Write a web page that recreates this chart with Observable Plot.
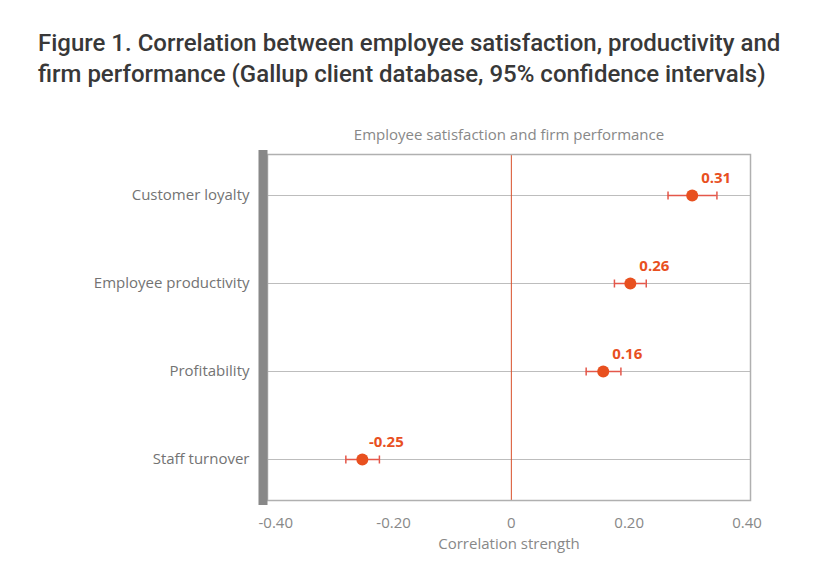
<!DOCTYPE html>
<html>
<head>
<meta charset="utf-8">
<script src="https://cdn.jsdelivr.net/npm/d3@7"></script>
<script src="https://cdn.jsdelivr.net/npm/@observablehq/plot@0.6"></script>
<style>
  html, body { margin: 0; padding: 0; background: #fff; }
  #wrap { position: relative; width: 823px; height: 574px; overflow: hidden; }
  #title { position: absolute; left: 38px; top: 28px; font-family: Roboto, sans-serif; font-weight: 500; font-size: 24px; line-height: 31px; color: #383838; white-space: nowrap; }
  #chart { position: absolute; left: 0; top: 100px; }
</style>
</head>
<body>
<div id="wrap">
  <div id="title">Figure 1. Correlation between employee satisfaction, productivity and<br>firm performance (Gallup client database, 95% confidence intervals)</div>
  <div id="chart"></div>
</div>
<script>
const categories = ["Customer loyalty", "Employee productivity", "Profitability", "Staff turnover"];
const estimates = [0.307, 0.202, 0.156, -0.253];
const lower = [0.266, 0.175, 0.127, -0.281];
const upper = [0.349, 0.229, 0.186, -0.224];
const valueLabels = ["0.31", "0.26", "0.16", "-0.25"];
const xTicks = [-0.4, -0.2, 0, 0.2, 0.4];
const xTickLabels = ["-0.40", "-0.20", "0", "0.20", "0.40"];

const data = categories.map((c, i) => ({cat: c, est: estimates[i], lo: lower[i], hi: upper[i], label: valueLabels[i]}));
const red = "#e8501f";
const barRed = "#e4574a";
const font = "'Open Sans', 'Noto Sans', sans-serif";

// vertical cap symbol for error bars
const vbar = {
  draw(context, size) {
    const h = Math.sqrt(size / Math.PI);
    context.moveTo(0, -h);
    context.lineTo(0, h);
  }
};

const chart = Plot.plot({
  width: 823,
  height: 474,
  marginLeft: 267,
  marginRight: 73,
  marginTop: 54,
  marginBottom: 74,
  style: {fontFamily: font, fontSize: "15px", color: "#888", background: "#fff"},
  x: {domain: [-0.414, 0.406]},
  y: {type: "point", domain: categories, padding: 0.46},
  marks: [
    Plot.gridY({stroke: "#bdbdbd", strokeOpacity: 1}),
    Plot.ruleX([0], {stroke: "#d9502a", strokeWidth: 1}),
    Plot.frame({stroke: "#b0b0b0", strokeWidth: 1.5}),
    Plot.frame({anchor: "left", stroke: "#888", strokeWidth: 9, dx: -4.5}),
    Plot.axisX({ticks: xTicks, tickFormat: (d) => xTickLabels[xTicks.indexOf(d)], tickSize: 0, tickPadding: 17, fill: "#888", fontSize: 15, label: null}),
    Plot.text(["Correlation strength"], {frameAnchor: "bottom", dy: 48, fill: "#888", fontSize: 15}),
    Plot.text(["Employee satisfaction and firm performance"], {frameAnchor: "top", dy: -25, fill: "#888", fontSize: 15}),
    Plot.axisY({tickSize: 0, tickPadding: 18, fill: "#737373", fontSize: 15, label: null}),
    Plot.ruleY(data, {y: "cat", x1: "lo", x2: "hi", stroke: barRed, strokeWidth: 1.5}),
    Plot.dot(data, {x: "lo", y: "cat", symbol: vbar, r: 4, stroke: barRed, strokeWidth: 1.5, fill: "none"}),
    Plot.dot(data, {x: "hi", y: "cat", symbol: vbar, r: 4, stroke: barRed, strokeWidth: 1.5, fill: "none"}),
    Plot.dot(data, {x: "est", y: "cat", r: 6, fill: red, stroke: "none"}),
    Plot.text(data, {x: "est", y: "cat", text: "label", dx: 24, dy: -17, fill: red, fontWeight: "bold", fontSize: 15})
  ]
});
document.getElementById("chart").appendChild(chart);
</script>
</body>
</html>
